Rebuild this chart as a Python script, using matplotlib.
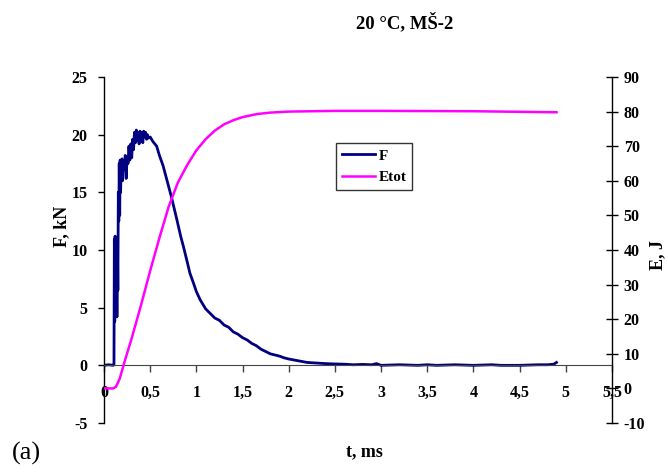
import matplotlib.pyplot as plt
from matplotlib.ticker import FixedLocator, FuncFormatter

plt.rcParams['font.family'] = ['Liberation Serif', 'DejaVu Serif']
plt.rcParams['font.weight'] = 'bold'
plt.rcParams['axes.unicode_minus'] = False

# F, kN over t, ms
t_F = [0, 0.05, 0.10, 0.108, 0.112, 0.116, 0.120, 0.124, 0.128, 0.132, 0.136, 0.140,
       0.145, 0.150, 0.155, 0.160, 0.165, 0.170, 0.175, 0.180, 0.185, 0.190, 0.195,
       0.20, 0.21, 0.22, 0.23, 0.24, 0.25, 0.26, 0.27, 0.28, 0.29, 0.30, 0.31, 0.32,
       0.33, 0.34, 0.35, 0.36, 0.37, 0.38, 0.39, 0.40, 0.41, 0.42, 0.43, 0.44, 0.45,
       0.46, 0.47, 0.48, 0.50, 0.53, 0.57, 0.60, 0.64, 0.67, 0.70, 0.73, 0.76, 0.79,
       0.83, 0.86, 0.90, 0.93, 0.97, 1.00, 1.04, 1.07, 1.10, 1.15, 1.20, 1.25, 1.30,
       1.35, 1.40, 1.45, 1.50, 1.55, 1.60, 1.65, 1.70, 1.75, 1.80, 1.85, 1.90, 1.95,
       2.00, 2.10, 2.20, 2.30, 2.40, 2.50, 2.60, 2.70, 2.80, 2.90, 2.95, 3.00, 3.20,
       3.40, 3.50, 3.60, 3.80, 4.00, 4.20, 4.30, 4.50, 4.70, 4.80, 4.87, 4.90]
F = [0.0, 0.05, 0.0, 0.1, 10.9, 3.8, 11.2, 4.5, 10.5, 5.0, 9.5, 4.2,
     11.0, 6.5, 15.0, 12.5, 17.5, 13.0, 17.8, 15.0, 17.2, 16.5, 17.9,
     16.0, 17.6, 17.0, 18.2, 16.2, 18.0, 17.5, 19.0, 17.8, 19.2, 18.0, 19.6, 18.7,
     20.2, 19.3, 20.4, 19.5, 20.2, 19.2, 20.3, 19.6, 20.2, 19.3, 20.3, 19.8, 20.2,
     19.6, 20.0, 19.7, 19.8, 19.4, 19.0, 18.2, 17.3, 16.4, 15.5, 14.6, 13.6, 12.6,
     11.2, 10.3, 9.0, 8.0, 7.1, 6.4, 5.7, 5.3, 4.9, 4.5, 4.1, 3.9, 3.5,
     3.3, 2.9, 2.7, 2.4, 2.2, 1.9, 1.7, 1.4, 1.2, 1.0, 0.9, 0.8, 0.65,
     0.55, 0.4, 0.25, 0.2, 0.15, 0.12, 0.1, 0.05, 0.08, 0.05, 0.15, 0.0, 0.05,
     0.0, 0.05, 0.0, 0.05, 0.0, 0.05, 0.0, 0.0, 0.05, 0.05, 0.1, 0.25]

# Etot, J over t, ms
t_E = [0, 0.10, 0.13, 0.17, 0.22, 0.30, 0.40, 0.50, 0.60, 0.70, 0.80, 0.90, 1.00,
       1.10, 1.20, 1.30, 1.40, 1.50, 1.66, 1.80, 2.00, 2.50, 3.00, 4.00, 4.90]
E = [0, 0, 0.5, 2.8, 7.5, 14.5, 24, 34, 43.5, 52.5, 59.5, 64.5, 68.8,
     72, 74.5, 76.3, 77.5, 78.4, 79.3, 79.7, 80, 80.2, 80.2, 80.1, 79.8]

fig = plt.figure(figsize=(6.68, 4.72), dpi=100)
ax = fig.add_axes([0.1557, 0.1038, 0.7603, 0.7331])
ax2 = ax.twinx()

lF, = ax.plot(t_F, F, color='#000080', lw=2.0, label='F')
lE, = ax2.plot(t_E, E, color='#ff00ff', lw=1.8, label='Etot')

ax.set_xlim(0, 5.5)
ax.set_ylim(-5, 25)
ax2.set_ylim(-10, 90)
ax.xaxis.set_major_locator(FixedLocator([i * 0.5 for i in range(12)]))
ax.xaxis.set_major_formatter(FuncFormatter(lambda v, p: ('%g' % v).replace('.', ',')))
ax.set_yticks(range(-5, 26, 5))
ax2.set_yticks(range(-10, 91, 10))

ax.spines['top'].set_visible(False)
ax.spines['right'].set_visible(False)
ax.spines['bottom'].set_position(('data', 0))
ax.spines['bottom'].set_color('#444444')
ax2.spines['top'].set_visible(False)
ax2.spines['left'].set_visible(False)
ax2.spines['bottom'].set_visible(False)
ax.spines['left'].set_linewidth(1.0)
ax2.spines['right'].set_linewidth(1.0)

ax.tick_params(axis='y', direction='out', length=4, width=1, pad=8, labelsize=11.5)
ax.tick_params(axis='x', direction='out', length=5, width=1, pad=9, labelsize=11.5,
               color='#444444')
ax2.tick_params(axis='y', direction='inout', length=9, width=1, pad=4, labelsize=11.5)

fig.text(0.093, 0.52, 'F, kN', rotation=90, ha='center', va='center', fontsize=13)
fig.text(0.985, 0.46, 'E, J', rotation=90, ha='center', va='center', fontsize=13)
fig.text(0.546, 0.042, 't, ms', ha='center', va='center', fontsize=13)
fig.text(0.605, 0.952, '20 °C, MŠ-2', ha='center', va='center', fontsize=13.5)
fig.text(0.018, 0.04, '(a)', ha='left', va='center', fontsize=19, fontweight='normal')

leg = ax.legend([lF, lE], ['F', 'Etot'], loc='upper left', bbox_to_anchor=(0.456, 0.81),
                frameon=True, fancybox=False, edgecolor='black', fontsize=11,
                handlelength=2.2, handletextpad=0.2, borderpad=0.4, labelspacing=0.5,
                borderaxespad=0)
leg.get_frame().set_linewidth(1.0)
leg.set_zorder(5)

fig.savefig('out.png', dpi=100)
